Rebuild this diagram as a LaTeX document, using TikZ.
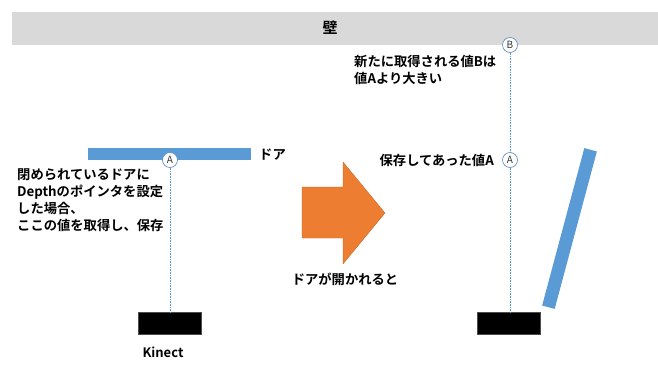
\documentclass[tikz,border=0pt]{standalone}
\usepackage{fontspec}
\setmainfont{Noto Sans CJK JP}[BoldFont={Noto Sans CJK JP Bold}]
\definecolor{wallgray}{HTML}{D9D9D9}
\definecolor{doorblue}{HTML}{5B9BD5}
\definecolor{arroworange}{HTML}{ED7D31}
\definecolor{ringblue}{HTML}{6A93C6}
\tikzset{
  wallbox/.style={fill=wallgray, draw=none, inner sep=0pt},
  doorbar/.style={fill=doorblue, draw=none, inner sep=0pt},
  kinectbox/.style={fill=black, draw=black!70, inner sep=0pt, minimum width=63pt, minimum height=22pt},
  ptmark/.style={circle, draw=ringblue, fill=white, line width=0.7pt, minimum size=15pt, inner sep=0pt, font=\fontsize{10}{10}\selectfont, text=black!80},
  dotline/.style={draw=doorblue, densely dotted, line width=0.6pt},
  lbl/.style={font=\bfseries\fontsize{13.3}{17}\selectfont, inner sep=0pt, align=left},
  bigarrow/.style={fill=arroworange, draw=arroworange!80!black, line width=0.3pt}
}
\begin{document}
\begin{tikzpicture}[x=1pt,y=-1pt]
\useasboundingbox (0,0) rectangle (658,367);
% wall
\node[wallbox, anchor=north west, minimum width=646pt, minimum height=33pt] (wall) at (12,12) {};
\node[lbl, font=\bfseries\fontsize{15}{15}\selectfont] (walllbl) at (330,28) {壁};
% left: closed door
\node[doorbar, anchor=north west, minimum width=163pt, minimum height=12pt] (door1) at (88,148) {};
\node[lbl, anchor=west] (door1lbl) at (259,155) {ドア};
\node[kinectbox, anchor=north west] (k1) at (138,312) {};
\node[ptmark] (A1) at (170,160) {A};
\draw[dotline] (A1) -- (A1 |- k1.north);
\node[lbl, font=\bfseries\fontsize{13}{13}\selectfont] (k1lbl) at (163,352) {Kinect};
\node[lbl, anchor=north west] (note1) at (17,169) {閉められているドアに\\Depthのポインタを設定\\した場合、\\ここの値を取得し、保存};
% arrow
\draw[bigarrow] (302,187) -- (343,187) -- (343,162) -- (385,213) -- (343,264) -- (343,238) -- (302,238) -- cycle;
\node[lbl] (arrowlbl) at (345,279) {ドアが開かれると};
% right: open door
\node[kinectbox, anchor=north west] (k2) at (477,312) {};
\node[ptmark] (B2) at (510,45) {B};
\node[ptmark] (A2) at (510,160) {A};
\draw[dotline] (B2) -- (A2);
\draw[dotline] (A2) -- (A2 |- k2.north);
\node[doorbar, minimum width=163pt, minimum height=13pt, rotate=75] (door2) at (569.5,228.5) {};
\node[lbl, anchor=north west] (note2) at (354,55) {新たに取得される値Bは\\値Aより大きい};
\node[lbl, anchor=east] (savedA) at (494,160) {保存してあった値A};
\end{tikzpicture}
\end{document}
